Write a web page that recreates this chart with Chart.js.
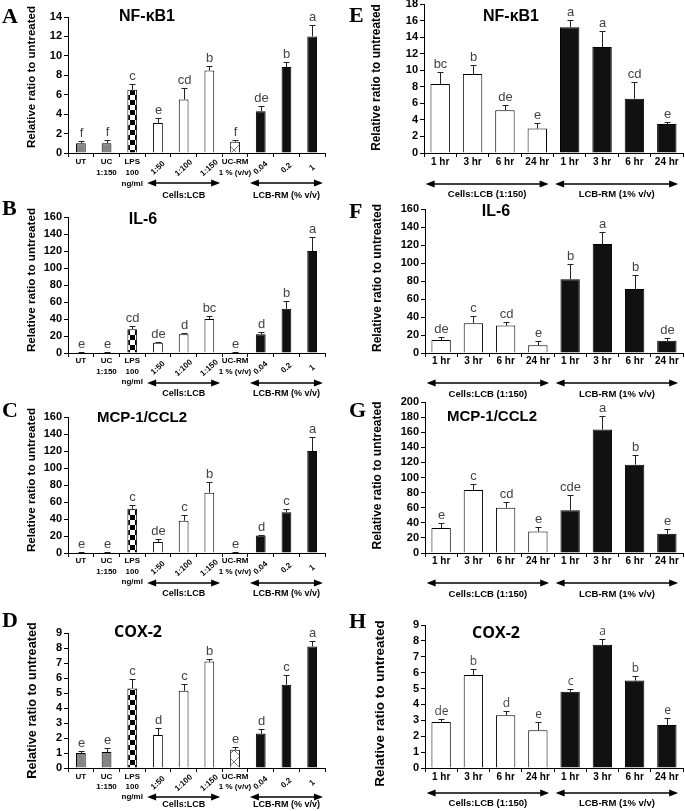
<!DOCTYPE html>
<html>
<head>
<meta charset="utf-8">
<script src="https://cdn.jsdelivr.net/npm/chart.js@4.4.1/dist/chart.umd.min.js"></script>
<style>
  html, body { margin: 0; padding: 0; background: #fff; overflow: hidden; }
  body { width: 685px; height: 811px; position: relative; }
  canvas { position: absolute; }
</style>
</head>
<body>
<script>
// Categories and tick labels
const doseLabels = [['UT'], ['UC', '1:150'], ['LPS', '100', 'ng/ml'], '1:50', '1:100', '1:150', ['UC-RM', '1 % (v/v)'], '0.04', '0.2', '1'];
const doseRotated = [false, false, false, true, true, true, false, true, true, true];
const doseGroups = ['Cells:LCB', 'LCB-RM (% v/v)'];
const doseGroupSpans = [[3, 5], [7, 9]];

const timeLabels = ['1 hr', '3 hr', '6 hr', '24 hr', '1 hr', '3 hr', '6 hr', '24 hr'];
const timeGroups = ['Cells:LCB (1:150)', 'LCB-RM (1% v/v)'];
const timeGroupSpans = [[0, 3], [4, 7]];

// Panel A-D: dose response
const nfkbDose = [1.0, 1.0, 6.5, 3.1, 5.5, 8.5, 1.15, 4.3, 8.85, 12.0];
const nfkbDoseErr = [0.25, 0.35, 0.6, 0.5, 1.2, 0.45, 0.15, 0.5, 0.5, 1.2];
const nfkbDoseSig = ['f', 'f', 'c', 'e', 'cd', 'b', 'f', 'de', 'b', 'a'];

const il6Dose = [1, 1, 28, 12, 22, 40, 1, 22, 52, 120];
const il6DoseErr = [0.3, 0.3, 4, 1, 1, 3, 0.3, 3, 9, 17];
const il6DoseSig = ['e', 'e', 'cd', 'de', 'd', 'bc', 'e', 'd', 'b', 'a'];

const mcpDose = [1, 1, 52, 13, 38, 71, 1, 20.5, 48, 120];
const mcpDoseErr = [0.3, 0.3, 4, 3, 7, 12, 0.3, 1, 4, 17];
const mcpDoseSig = ['e', 'e', 'c', 'de', 'c', 'b', 'e', 'd', 'c', 'a'];

const coxDose = [1.0, 1.07, 5.3, 2.2, 5.15, 7.1, 1.22, 2.3, 5.55, 8.1];
const coxDoseErr = [0.12, 0.27, 0.65, 0.5, 0.45, 0.18, 0.2, 0.3, 0.65, 0.4];
const coxDoseSig = ['e', 'e', 'c', 'd', 'c', 'b', 'e', 'd', 'c', 'a'];

// Panel E-H: time course
const nfkbTime = [8.35, 9.55, 5.15, 2.95, 15.2, 12.8, 6.55, 3.5];
const nfkbTimeErr = [1.4, 1.1, 0.7, 0.65, 0.9, 1.95, 2.05, 0.25];
const nfkbTimeSig = ['bc', 'b', 'de', 'e', 'a', 'a', 'cd', 'e'];

const il6Time = [14.5, 33, 30.5, 8.5, 82, 121, 71, 13.5];
const il6TimeErr = [3.5, 8, 3.5, 5, 17, 14, 16, 2.8];
const il6TimeSig = ['de', 'c', 'cd', 'e', 'b', 'a', 'b', 'de'];

const mcpTime = [33, 83.5, 60, 28.5, 56.5, 163.5, 117, 25.5];
const mcpTimeErr = [7, 8.5, 7, 5.5, 20, 18.5, 13, 6];
const mcpTimeSig = ['e', 'c', 'cd', 'e', 'cde', 'a', 'b', 'e'];

const coxTime = [2.9, 5.85, 3.32, 2.38, 4.8, 7.75, 5.5, 2.7];
const coxTimeErr = [0.2, 0.4, 0.25, 0.5, 0.2, 0.4, 0.32, 0.42];
const coxTimeSig = ['de', 'b', 'd', 'e', 'c', 'a', 'b', 'e'];

const SANS = '"Liberation Sans", Arial, sans-serif';
Chart.defaults.font.family = SANS;

// bar fills
function checkerPattern() {
  const c = document.createElement('canvas');
  c.width = c.height = 10;
  const g = c.getContext('2d');
  g.fillStyle = '#fff'; g.fillRect(0, 0, 10, 10);
  g.fillStyle = '#000'; g.fillRect(0, 0, 5, 5); g.fillRect(5, 5, 5, 5);
  return g.createPattern(c, 'repeat');
}
function crossPattern() {
  const c = document.createElement('canvas');
  c.width = c.height = 12;
  const g = c.getContext('2d');
  g.fillStyle = '#fff'; g.fillRect(0, 0, 12, 12);
  g.strokeStyle = '#777'; g.lineWidth = 1;
  g.beginPath();
  g.moveTo(0, 0); g.lineTo(12, 12);
  g.moveTo(12, 0); g.lineTo(0, 12);
  g.stroke();
  return g.createPattern(c, 'repeat');
}
const GREY = '#858585', WHITE = '#ffffff', BLACK = '#111111';
const doseFills = [GREY, GREY, checkerPattern(), WHITE, WHITE, WHITE, crossPattern(), BLACK, BLACK, BLACK];
const timeFills = [WHITE, WHITE, WHITE, WHITE, BLACK, BLACK, BLACK, BLACK];

// layout of the panels (page pixels)
const leftBase = { labels: doseLabels, rotated: doseRotated, groups: doseGroups, spans: doseGroupSpans, fills: doseFills,
  barPct: 0.38, tickFont: 'bold 8px ' + SANS, groupFont: 'bold 9px ' + SANS, span: [0.42, 0.42], letterX: 2 };
const rightBase = { labels: timeLabels, rotated: null, groups: timeGroups, spans: timeGroupSpans, fills: timeFills,
  barPct: 0.6, tickFont: 'bold 10px ' + SANS, groupFont: 'bold 9.5px ' + SANS, span: [0.45, 0.35], letterX: 349 };

const panels = [
  Object.assign({}, leftBase, { id: 'A', title: 'NF-κB1', values: nfkbDose, errors: nfkbDoseErr, sig: nfkbDoseSig, yMax: 14, yStep: 2,
    box: [0, 0, 345, 205], area: [68, 17, 325, 153], titlePos: [147, 17], titleFont: 'bold 16px ' + SANS, letterY: 23,
    yTitle: [32, -8, 11.5], lab: [9, 11, 30, 43] }),
  Object.assign({}, leftBase, { id: 'B', title: 'IL-6', values: il6Dose, errors: il6DoseErr, sig: il6DoseSig, yMax: 160, yStep: 20,
    box: [0, 195, 345, 210], area: [68, 217, 325, 353], titlePos: [143, 220], titleFont: 'bold 16px ' + SANS, letterY: 215,
    yTitle: [32, -5, 11.7], lab: [8, 10.5, 30, 41] }),
  Object.assign({}, leftBase, { id: 'C', title: 'MCP-1/CCL2', values: mcpDose, errors: mcpDoseErr, sig: mcpDoseSig, yMax: 160, yStep: 20,
    box: [0, 395, 345, 210], area: [68, 417, 325, 553], titlePos: [142, 418], titleFont: 'bold 15px ' + SANS, letterY: 417,
    yTitle: [32, -5, 11.7], lab: [8, 10.5, 30, 41] }),
  Object.assign({}, leftBase, { id: 'D', title: 'COX-2', values: coxDose, errors: coxDoseErr, sig: coxDoseSig, yMax: 9, yStep: 1,
    box: [0, 600, 345, 211], area: [68, 633, 325, 768], titlePos: [138, 632], titleFont: 'bold 16px "Open Sans", sans-serif', letterY: 627,
    yTitle: [32, 0, 12.7], lab: [9, 10, 29, 37] }),
  Object.assign({}, rightBase, { id: 'E', title: 'NF-κB1', values: nfkbTime, errors: nfkbTimeErr, sig: nfkbTimeSig, yMax: 18, yStep: 2,
    box: [345, -6, 340, 211], area: [424, 4, 683, 153], titlePos: [511, 17], titleFont: 'bold 16px ' + SANS, letterY: 22,
    yTitle: [377, -1, 11.9], lab: [9, 0, 31, 41] }),
  Object.assign({}, rightBase, { id: 'F', title: 'IL-6', values: il6Time, errors: il6TimeErr, sig: il6TimeSig, yMax: 160, yStep: 20,
    box: [345, 190, 340, 210], area: [425, 209, 683, 353], titlePos: [496, 212], titleFont: 'bold 16px ' + SANS, letterY: 218,
    yTitle: [378, -3, 12], lab: [8, 0, 30, 41] }),
  Object.assign({}, rightBase, { id: 'G', title: 'MCP-1/CCL2', values: mcpTime, errors: mcpTimeErr, sig: mcpTimeSig, yMax: 200, yStep: 20,
    box: [345, 390, 340, 210], area: [425, 402, 683, 553], titlePos: [492, 417], titleFont: 'bold 15px ' + SANS, letterY: 417,
    yTitle: [378, -2, 12], lab: [8, 0, 30, 41] }),
  Object.assign({}, rightBase, { id: 'H', title: 'COX-2', values: coxTime, errors: coxTimeErr, sig: coxTimeSig, yMax: 9, yStep: 1,
    box: [345, 600, 340, 211], area: [425, 625, 683, 768], titlePos: [496, 633], titleFont: 'bold 16px "Open Sans", sans-serif', letterY: 628,
    yTitle: [380, 7, 13.5], lab: [9, 0, 25, 35], sigFont: '12px "Open Sans", sans-serif' })
];

function arrowHead(ctx, x, y, dir) {
  ctx.beginPath();
  ctx.moveTo(x, y);
  ctx.lineTo(x - dir * 9, y - 3.5);
  ctx.lineTo(x - dir * 9, y + 3.5);
  ctx.closePath();
  ctx.fill();
}

// error bars, significance letters, tick labels, group arrows and texts
function makeAnnotator(p) {
  return {
    id: 'annotate' + p.id,
    afterDraw(chart) {
      const ctx = chart.ctx;
      const xs = chart.scales.x, ys = chart.scales.y;
      const area = chart.chartArea;
      const meta = chart.getDatasetMeta(0);
      const ox = p.box[0], oy = p.box[1];
      ctx.save();

      p.values.forEach((v, i) => {
        const cx = Math.round(meta.data[i].x) + 0.5;
        const top = Math.round(ys.getPixelForValue(v + p.errors[i])) + 0.5;
        const base = ys.getPixelForValue(v);
        ctx.strokeStyle = '#222';
        ctx.lineWidth = 1;
        ctx.beginPath();
        ctx.moveTo(cx, base); ctx.lineTo(cx, top);
        ctx.moveTo(cx - 3, top); ctx.lineTo(cx + 3, top);
        ctx.stroke();
        ctx.fillStyle = '#444';
        ctx.font = p.sigFont || ('13px ' + SANS);
        ctx.textAlign = 'center';
        ctx.textBaseline = 'alphabetic';
        ctx.fillText(p.sig[i], cx, top - 5);
      });

      // x tick labels
      ctx.fillStyle = '#000';
      ctx.font = p.tickFont;
      ctx.textAlign = 'center';
      ctx.textBaseline = 'middle';
      chart.data.labels.forEach((lab, i) => {
        const cx = xs.getPixelForValue(i);
        const lines = [].concat(lab);
        if (p.rotated && p.rotated[i]) {
          ctx.save();
          ctx.translate(cx, area.bottom + 15);
          ctx.rotate(-0.72);
          ctx.fillText(lines[0], 0, 0);
          ctx.restore();
        } else {
          lines.forEach((s, k) => ctx.fillText(s, cx, area.bottom + p.lab[0] + k * p.lab[1]));
        }
      });

      // group arrows
      const cw = xs.getPixelForValue(1) - xs.getPixelForValue(0);
      p.groups.forEach((name, g) => {
        const x1 = xs.getPixelForValue(p.spans[g][0]) - p.span[0] * cw;
        const x2 = xs.getPixelForValue(p.spans[g][1]) + p.span[1] * cw;
        const ya = area.bottom + p.lab[2];
        ctx.strokeStyle = '#000';
        ctx.fillStyle = '#000';
        ctx.lineWidth = 1.5;
        ctx.beginPath();
        ctx.moveTo(x1 + 6, ya); ctx.lineTo(x2 - 6, ya);
        ctx.stroke();
        arrowHead(ctx, x1, ya, -1);
        arrowHead(ctx, x2, ya, 1);
        ctx.font = p.groupFont;
        ctx.fillText(name, (x1 + x2) / 2, area.bottom + p.lab[3]);
      });

      // y axis title
      ctx.save();
      ctx.translate(p.yTitle[0] - ox, (area.top + area.bottom) / 2 + p.yTitle[1]);
      ctx.rotate(-Math.PI / 2);
      ctx.font = 'bold ' + p.yTitle[2] + 'px ' + SANS;
      ctx.fillText('Relative ratio to untreated', 0, 0);
      ctx.restore();

      // panel title and letter
      ctx.font = p.titleFont;
      ctx.fillText(p.title, p.titlePos[0] - ox, p.titlePos[1] - oy);
      ctx.font = 'bold 22px "Liberation Serif", "Times New Roman", serif';
      ctx.textAlign = 'left';
      ctx.textBaseline = 'alphabetic';
      ctx.fillText(p.id, p.letterX - ox, p.letterY - oy);
      ctx.restore();
    }
  };
}

panels.forEach(p => {
  const canvas = document.createElement('canvas');
  canvas.width = p.box[2];
  canvas.height = p.box[3];
  canvas.style.left = p.box[0] + 'px';
  canvas.style.top = p.box[1] + 'px';
  document.body.appendChild(canvas);

  new Chart(canvas, {
    type: 'bar',
    data: {
      labels: p.labels,
      datasets: [{
        data: p.values,
        backgroundColor: p.fills,
        borderColor: '#000',
        borderWidth: 1,
        barPercentage: p.barPct,
        categoryPercentage: 1
      }]
    },
    options: {
      responsive: false,
      animation: false,
      events: [],
      layout: {
        padding: {
          left: 0,
          top: p.area[1] - p.box[1],
          right: p.box[0] + p.box[2] - p.area[2],
          bottom: p.box[1] + p.box[3] - p.area[3] - 4
        }
      },
      plugins: { legend: { display: false }, tooltip: { enabled: false } },
      scales: {
        x: {
          grid: { drawOnChartArea: false, tickLength: 4, color: '#000' },
          border: { color: '#000' },
          ticks: { display: false },
          afterFit: s => { s.height = 4; }
        },
        y: {
          min: 0,
          max: p.yMax,
          ticks: { stepSize: p.yStep, autoSkip: false, color: '#000', padding: 2, font: { size: 11, weight: 'bold' } },
          grid: { drawOnChartArea: false, tickLength: 4, color: '#000' },
          border: { color: '#000' },
          afterFit: s => { s.width = p.area[0] - p.box[0]; }
        }
      }
    },
    plugins: [makeAnnotator(p)]
  });
});
</script>
</body>
</html>
